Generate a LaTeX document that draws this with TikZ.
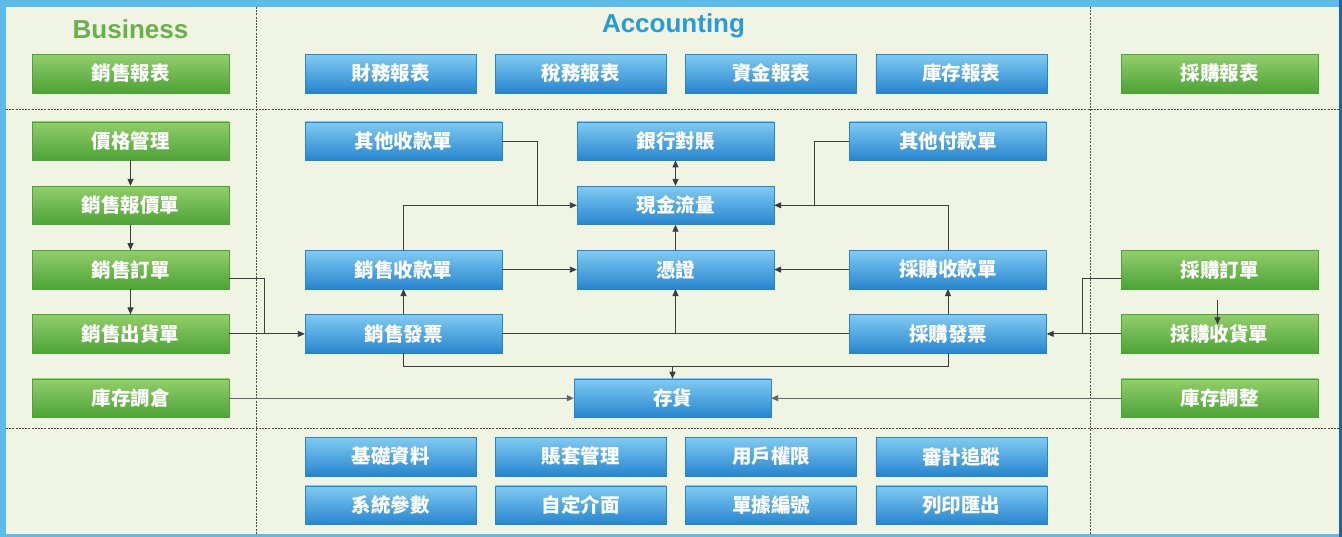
\documentclass[tikz,border=0pt]{standalone}
\usepackage{fontspec}
\setmainfont{Liberation Sans}
\newfontfamily\cjk{Noto Sans CJK TC}
\usetikzlibrary{arrows.meta}
\definecolor{bgcream}{HTML}{EFF4E3}
\definecolor{framebl}{HTML}{5CBBEA}
\definecolor{framedk}{HTML}{1C63A8}
\definecolor{bluetop}{HTML}{80CBF2}
\definecolor{bluebot}{HTML}{2785CE}
\definecolor{greentop}{HTML}{92CE6A}
\definecolor{greenbot}{HTML}{4DA336}
\definecolor{titlegreen}{HTML}{6AB04C}
\definecolor{titleblue}{HTML}{2A9BD6}
\definecolor{linegray}{HTML}{3C3C3C}

\tikzset{
  box/.style={minimum height=38.5pt, inner sep=0pt, text=white,
    font=\cjk\bfseries\fontsize{19.5}{21}\selectfont},
  bbox/.style={box, minimum width=197pt, top color=bluetop, bottom color=bluebot,
    draw=bluebot, line width=0.4pt},
  rbox/.style={bbox, minimum width=171pt},
  gbox/.style={box, minimum width=197pt, top color=greentop, bottom color=greenbot,
    draw=greenbot, line width=0.4pt},
  title/.style={font=\bfseries\fontsize{26}{28}\selectfont},
  divider/.style={dash pattern=on 2pt off 1.2pt, line width=0.9pt, gray!60!black},
  link/.style={linegray, line width=0.9pt},
}

\begin{document}
\begin{tikzpicture}[x=1pt, y=1pt, node distance=64.3pt, >={Triangle[length=7pt,width=6pt]}]
\useasboundingbox (0,0) rectangle (1342,-537);
% frame and background
\fill[framebl] (0,0) rectangle (1342,-537);
\fill[framedk] (1339,0) rectangle (1342,-537);
\fill[bgcream] (6,-7) rectangle (1339,-534);
\draw[divider] (256,-7) -- (256,-534);
\draw[divider] (1090,-7) -- (1090,-534);
\draw[divider] (6,-109) -- (1339,-109);
\draw[divider] (6,-428) -- (1339,-428);

% titles
\node[title, text=titlegreen] (biz) at (130.5,-29) {Business};
\node[title, text=titleblue] (acc) at (673.5,-26) {Accounting};

% reports
\node[gbox] (salesrpt) at (130.5,-73.5) {銷售報表};
\node[rbox] (finrpt) at (390.5,-73.5) {財務報表};
\node[rbox, right of=finrpt, node distance=190.3pt] (taxrpt) {稅務報表};
\node[rbox, right of=taxrpt, node distance=190.3pt] (fundrpt) {資金報表};
\node[rbox, right of=fundrpt, node distance=190.3pt] (stockrpt) {庫存報表};
\node[gbox] (buyrpt) at (1219.5,-73.5) {採購報表};

% sales side
\node[gbox] (price) at (130.5,-141) {價格管理};
\node[gbox, below of=price] (quote) {銷售報價單};
\node[gbox, below of=quote] (sorder) {銷售訂單};
\node[gbox, below of=sorder] (ship) {銷售出貨單};
\node[gbox, below of=ship] (transfer) {庫存調倉};

% accounting
\node[bbox] (otherin) at (403.5,-141) {其他收款單};
\node[bbox, right of=otherin, node distance=272pt] (bank) {銀行對賬};
\node[bbox, right of=bank, node distance=272.5pt] (otherout) {其他付款單};
\node[bbox, below of=bank] (cash) {現金流量};
\node[bbox, below of=cash] (voucher) {憑證};
\node[bbox, below of=otherin, node distance=128.6pt] (receipt) {銷售收款單};
\node[bbox, below of=receipt] (sinv) {銷售發票};
\node[bbox, below of=otherout, node distance=128.6pt] (payment) {採購收款單};
\node[bbox, below of=payment] (pinv) {採購發票};
\node[bbox, below of=voucher, node distance=128.6pt, xshift=-3pt] (stock) {存貨};

% purchase side
\node[gbox] (porder) at (1219.5,-269.6) {採購訂單};
\node[gbox, below of=porder] (preceive) {採購收貨單};
\node[gbox, below of=preceive] (adjust) {庫存調整};

% settings
\node[rbox] (basedata) at (390.5,-456.5) {基礎資料};
\node[rbox, right of=basedata, node distance=190.3pt] (books) {賬套管理};
\node[rbox, right of=books, node distance=190.3pt] (rights) {用戶權限};
\node[rbox, right of=rights, node distance=190.3pt] (audit) {審計追蹤};
\node[rbox, below of=basedata, node distance=48.5pt] (sysparam) {系統參數};
\node[rbox, below of=books, node distance=48.5pt] (custui) {自定介面};
\node[rbox, below of=rights, node distance=48.5pt] (docno) {單據編號};
\node[rbox, below of=audit, node distance=48.5pt] (export) {列印匯出};

% joints
\coordinate (sj) at (264,-333.9);
\coordinate (cj) at (537,-205.3);
\coordinate (pj) at (814,-205.3);
\coordinate (qj) at (1082,-333.9);

% connectors
\draw[link,->] (price) -- (quote);
\draw[link,->] (quote) -- (sorder);
\draw[link,->] (sorder) -- (ship);
\draw[link] ([yshift=-9pt]sorder.east) -| (sj);
\draw[link,->] (ship) -- (sinv);
\draw[link,->] (sinv) -- (receipt);
\draw[link,->] (receipt) -- (voucher);
\draw[link,->] (receipt.north) |- (cash.west);
\draw[link] (otherin) -| (cj);
\draw[link,<->] (bank) -- (cash);
\draw[link,->] (voucher) -- (cash);
\draw[link] (sinv) -- (pinv);
\draw[link,->] (voucher.south |- sinv.east) -- (voucher.south);
\draw[link] (sinv.south) -- ++(0,-13.5) coordinate (ij) -| (pinv.south);
\draw[link,->] (stock.north |- ij) -- (stock.north);
\draw[link,->] (pinv) -- (payment);
\draw[link,->] (payment) -- (voucher);
\draw[link,->] (payment.north) |- (cash.east);
\draw[link] (otherout) -| (pj);
\draw[link] ([yshift=-9pt]porder.west) -| (qj);
\draw[link,->] (preceive) -- (pinv);
\draw[link,->] ([xshift=-2pt,yshift=-11pt]porder.south) -- ([xshift=-2pt,yshift=-10pt]preceive.north);
\draw[link,->,gray!80!black,line width=1.3pt] (transfer) -- (stock);
\draw[link,->,gray!80!black,line width=1.3pt] (adjust) -- (stock);
\end{tikzpicture}
\end{document}
